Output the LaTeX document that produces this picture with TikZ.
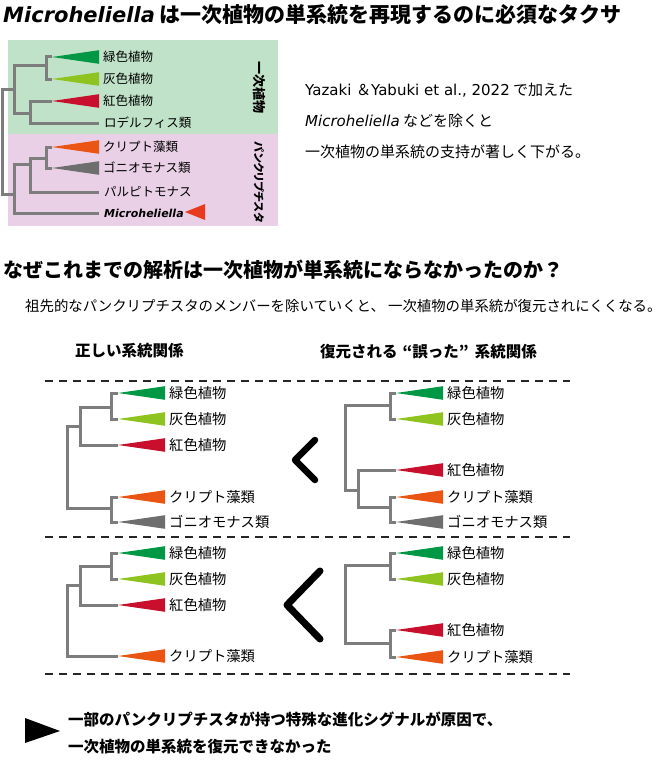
\documentclass[tikz,border=0pt]{standalone}
\usepackage{fontspec}
\setmainfont{Noto Sans CJK JP}
\newfontfamily\lat{DejaVu Sans}
\newfontfamily\palt{Noto Sans CJK JP}[RawFeature=+palt]
\usepackage{xcolor}
\usetikzlibrary{calc}

\definecolor{treegray}{RGB}{125,125,125}
\definecolor{grnplant}{RGB}{0,152,68}
\definecolor{glaucoph}{RGB}{143,195,31}
\definecolor{redalga}{RGB}{200,16,46}
\definecolor{crypto}{RGB}{234,85,20}
\definecolor{gonio}{RGB}{110,110,110}
\definecolor{primbox}{RGB}{192,226,200}
\definecolor{panbox}{RGB}{234,208,230}
\definecolor{pointer}{RGB}{232,58,30}

% clade triangle with apex at the branch tip, label to its right
\newcommand{\clade}[5][lbl]{%
  \coordinate (#2) at (#3);
  \fill[#4] (#2) -- ++(47,-6.8) -- ++(0,13.6) -- cycle;
  \node[#1] (#2-t) at ($(#2)+(51,0)$) {#5};
}
% single taxon: branch tip and label
\newcommand{\leaf}[4][lbl]{%
  \coordinate (#2) at (#3);
  \node[#1] (#2-t) at ($(#2)+(5,0)$) {#4};
}

\tikzset{
  branch/.style={draw=treegray, line width=3pt},
  lbl/.style={anchor=west, inner sep=0pt, font=\fontsize{14.3}{16}\selectfont},
  lblsm/.style={anchor=west, inner sep=0pt, font=\fontsize{12.5}{14}\selectfont},
  note/.style={anchor=west, inner sep=0pt, font=\fontsize{15}{18}\selectfont},
  head/.style={anchor=west, inner sep=0pt, font=\fontsize{15.5}{18}\selectfont\bfseries},
  sep/.style={draw=black!85, line width=1.4pt, dash pattern=on 8pt off 6pt},
  lessthan/.style={draw=black, line width=6.5pt, line cap=round, line join=round},
}

\begin{document}
\begin{tikzpicture}[x=1pt, y=-1pt]
  \path[fill=white, use as bounding box] (0,0) rectangle (670,776);

  % ---- title ----
  \node[anchor=west, inner sep=0pt, font=\fontsize{21}{24}\selectfont\bfseries] (title) at (3,15)
    {{\lat\itshape Microheliella} は一次植物の単系統を再現するのに必須なタクサ};

  % ---- top tree ----
  \fill[primbox] (8,40) rectangle (278,134);
  \fill[panbox] (8,134) rectangle (278,226);
  \node[rotate=-90, inner sep=0pt, font=\fontsize{13}{15}\selectfont\bfseries] (prim) at (259,88) {一次植物};
  \node[rotate=-90, inner sep=0pt, font=\palt\fontsize{11}{13}\selectfont\bfseries] (pan) at (259,182) {パンクリプチスタ};

  \clade[lblsm]{t-grn}{52,57}{grnplant}{緑色植物}
  \clade[lblsm]{t-glc}{52,79}{glaucoph}{灰色植物}
  \clade[lblsm]{t-red}{52,101}{redalga}{紅色植物}
  \leaf[lblsm]{t-rho}{99,123}{ロデルフィス類}
  \clade[lblsm]{t-cry}{52,147}{crypto}{クリプト藻類}
  \clade[lblsm]{t-gon}{52,168}{gonio}{ゴニオモナス類}
  \leaf[lblsm]{t-pal}{99,192}{パルピトモナス}
  \coordinate (t-mic) at (99,213);
  \node[anchor=west, inner sep=0pt, font=\lat\fontsize{11}{13}\selectfont\bfseries\itshape] (t-mic-t) at (104,213) {Microheliella};
  \fill[pointer] (185,212) -- (205,204) -- (205,220) -- cycle;

  \coordinate (t-jA) at (46,66);
  \coordinate (t-jR) at (30,113);
  \coordinate (t-jP) at (14,89);
  \coordinate (t-jCG) at (46,158);
  \coordinate (t-jCGP) at (30,164);
  \coordinate (t-jPan) at (14,194);
  \coordinate (t-root) at (2,150);
  \draw[branch] (t-grn) -| (t-jA) |- (t-glc);
  \draw[branch] (t-red) -| (t-jR) |- (t-rho);
  \draw[branch] (t-jA) -| (t-jP) |- (t-jR);
  \draw[branch] (t-cry) -| (t-jCG) |- (t-gon);
  \draw[branch] (t-jCG) -| (t-jCGP) |- (t-pal);
  \draw[branch] (t-jCGP) -| (t-jPan) |- (t-mic);
  \draw[branch] (t-jP) -| (t-root) |- (t-jPan);

  % ---- notes ----
  \node[note] (ref1) at (305,90) {{\lat Yazaki }＆{\lat Yabuki et al., 2022} で加えた};
  \node[note] (ref2) at (305,121) {{\lat\itshape Microheliella} などを除くと};
  \node[note] (ref3) at (305,152) {一次植物の単系統の支持が著しく下がる。};

  % ---- question ----
  \node[anchor=west, inner sep=0pt, font=\fontsize{20}{24}\selectfont\bfseries] (quest) at (3,270)
    {なぜこれまでの解析は一次植物が単系統にならなかったのか？};
  \node[anchor=west, inner sep=0pt, font=\fontsize{14.4}{16}\selectfont] (sub) at (25,306)
    {祖先的なパンクリプチスタのメンバーを除いていくと、 一次植物の単系統が復元されにくくなる。};
  \node[head] (colL) at (75,351) {正しい系統関係};
  \node[head] (colR) at (320,352) {復元される\hspace{5pt}“誤った”\hspace{6pt}系統関係};

  % separators
  \foreach \y in {381,537,674} {
    \draw[sep] (45,\y) -- (570,\y);
  }

  % ---- panel 1, left ----
  \clade{a-grn}{118,393}{grnplant}{緑色植物}
  \clade{a-glc}{118,419}{glaucoph}{灰色植物}
  \clade{a-red}{118,445}{redalga}{紅色植物}
  \clade{a-cry}{118,497}{crypto}{クリプト藻類}
  \clade{a-gon}{118,522}{gonio}{ゴニオモナス類}
  \coordinate (a-jA) at (111,407);
  \coordinate (a-jB) at (80,426);
  \coordinate (a-jC) at (111,508);
  \coordinate (a-root) at (67,470);
  \draw[branch] (a-grn) -| (a-jA) |- (a-glc);
  \draw[branch] (a-jA) -| (a-jB) |- (a-red);
  \draw[branch] (a-cry) -| (a-jC) |- (a-gon);
  \draw[branch] (a-jB) -| (a-root) |- (a-jC);

  % ---- panel 1, right ----
  \clade{b-grn}{396,393}{grnplant}{緑色植物}
  \clade{b-glc}{396,419}{glaucoph}{灰色植物}
  \clade{b-red}{396,470}{redalga}{紅色植物}
  \clade{b-cry}{396,497}{crypto}{クリプト藻類}
  \clade{b-gon}{396,522}{gonio}{ゴニオモナス類}
  \coordinate (b-jA) at (390,405);
  \coordinate (b-jC) at (390,507);
  \coordinate (b-jD) at (358,490);
  \coordinate (b-root) at (345,450);
  \draw[branch] (b-grn) -| (b-jA) |- (b-glc);
  \draw[branch] (b-cry) -| (b-jC) |- (b-gon);
  \draw[branch] (b-red) -| (b-jD) |- (b-jC);
  \draw[branch] (b-jA) -| (b-root) |- (b-jD);

  \coordinate (lt1) at (295,460);
  \draw[lessthan] ($(lt1)+(20,-20)$) -- (lt1) -- ($(lt1)+(20,20)$);

  % ---- panel 2, left ----
  \clade{c-grn}{118,553}{grnplant}{緑色植物}
  \clade{c-glc}{118,579}{glaucoph}{灰色植物}
  \clade{c-red}{118,605}{redalga}{紅色植物}
  \clade{c-cry}{118,656}{crypto}{クリプト藻類}
  \coordinate (c-jA) at (111,566);
  \coordinate (c-jB) at (80,585);
  \coordinate (c-root) at (67,620);
  \draw[branch] (c-grn) -| (c-jA) |- (c-glc);
  \draw[branch] (c-jA) -| (c-jB) |- (c-red);
  \draw[branch] (c-jB) -| (c-root) |- (c-cry);

  % ---- panel 2, right ----
  \clade{d-grn}{396,553}{grnplant}{緑色植物}
  \clade{d-glc}{396,579}{glaucoph}{灰色植物}
  \clade{d-red}{396,630}{redalga}{紅色植物}
  \clade{d-cry}{396,657}{crypto}{クリプト藻類}
  \coordinate (d-jA) at (390,565);
  \coordinate (d-jE) at (390,643);
  \coordinate (d-root) at (345,600);
  \draw[branch] (d-grn) -| (d-jA) |- (d-glc);
  \draw[branch] (d-red) -| (d-jE) |- (d-cry);
  \draw[branch] (d-jA) -| (d-root) |- (d-jE);

  \coordinate (lt2) at (287,605);
  \draw[lessthan, line width=7pt] ($(lt2)+(33,-34)$) -- (lt2) -- ($(lt2)+(33,34)$);

  % ---- conclusion ----
  \fill[black] (25,718) -- (60,731) -- (25,743) -- cycle;
  \node[head] (concl1) at (68,719) {一部のパンクリプチスタが持つ特殊な進化シグナルが原因で、};
  \node[head] (concl2) at (68,747) {一次植物の単系統を復元できなかった};
\end{tikzpicture}
\end{document}
